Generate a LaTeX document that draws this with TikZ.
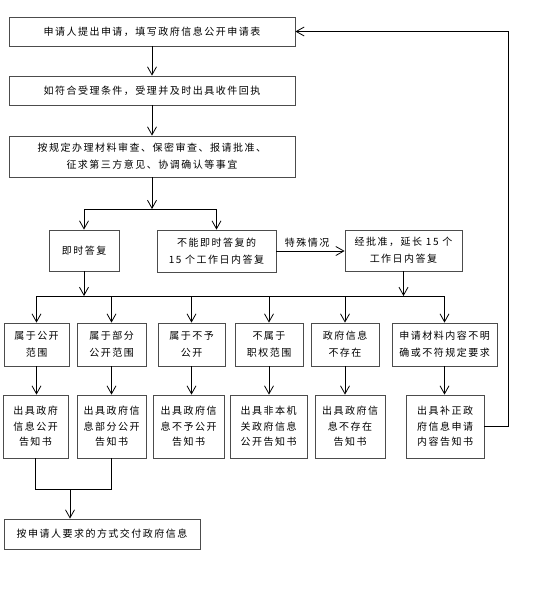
\documentclass[tikz,border=0pt]{standalone}
\usepackage{fontspec}
\setmainfont{Noto Sans CJK SC}[LetterSpace=15]
\usetikzlibrary{arrows.meta}
\begin{document}
\begin{tikzpicture}[x=1pt,y=-1pt,line width=0.8pt,>={Straight Barb[length=8pt,width=9pt]},font=\fontsize{10}{17}\selectfont,
box/.style 2 args={draw=black!70,minimum width=#1pt,minimum height=#2pt,inner sep=0pt,align=center}]
\useasboundingbox(0,0)rectangle(534,600);
\node[box={286}{29}](apply)at(152,31.5){申请人提出申请，填写政府信息公开申请表};
\node[box={286}{29}](accept)at(152,90.5){如符合受理条件，受理并及时出具收件回执};
\node[box={286}{41}](review)at(152,156.5){按规定办理材料审查、保密审查、报请批准、\\征求第三方意见、协调确认等事宜};
\node[box={70}{41}](now)at(84,250.5){即时答复};
\node[box={119}{42}](later)at(216.5,251){不能即时答复的\\15 个工作日内答复};
\node[box={117}{41}](ext)at(403.5,250.5){经批准，延长 15 个\\工作日内答复};
\node[box={196}{30}](deliver)at(102,534){按申请人要求的方式交付政府信息};
\coordinate(split)at(152,209);
\coordinate(bus)at(0,296);
\coordinate(merge)at(70,489);
\coordinate(back)at(508,0);
\foreach \i/\cx/\w/\t in {1/36.5/65/{属于公开\\范围},2/111.5/69/{属于部分\\公开范围},3/191.5/67/{属于不予\\公开},4/269/68/{不属于\\职权范围},5/345/68/{政府信息\\不存在},6/444.5/105/{申请材料内容不明\\确或不符规定要求}}{\node[box={\w}{43}](r\i)at(\cx,344.5){\t};}
\foreach \i/\cx/\w/\t in {1/35.5/65/{出具政府\\信息公开\\告知书},2/111.5/69/{出具政府信\\息部分公开\\告知书},3/188.5/71/{出具政府信\\息不予公开\\告知书},4/268.5/77/{出具非本机\\关政府信息\\公开告知书},5/350/70/{出具政府信\\息不存在\\告知书},6/445/78/{出具补正政\\府信息申请\\内容告知书}}{\node[box={\w}{63},font=\fontsize{10}{15.5}\selectfont](n\i)at(\cx,426.5){\t};}
\draw[->](apply)--(accept);
\draw[->](accept)--(review);
\draw[->](review)--(split);
\draw(split-|now)--(split-|later);
\draw[->](split-|now)--(now);
\draw[->](split-|later)--(later);
\draw[->](later.east)--node[above,pos=0.45]{特殊情况}(later.east-|ext.west);
\draw[->](now)--(now|-bus);
\draw[->](ext)--(ext|-bus);
\draw(r1|-bus)--(r6|-bus);
\foreach \i in {1,...,6}{\draw[->](r\i|-bus)--(r\i);\draw[->](r\i)--(r\i|-n\i.north);}
\draw(n1)--(n1|-merge)-|(n2);
\draw[->](merge)--(merge|-deliver.north);
\draw[->](n6)--(n6-|back)|-(apply);
\end{tikzpicture}
\end{document}
